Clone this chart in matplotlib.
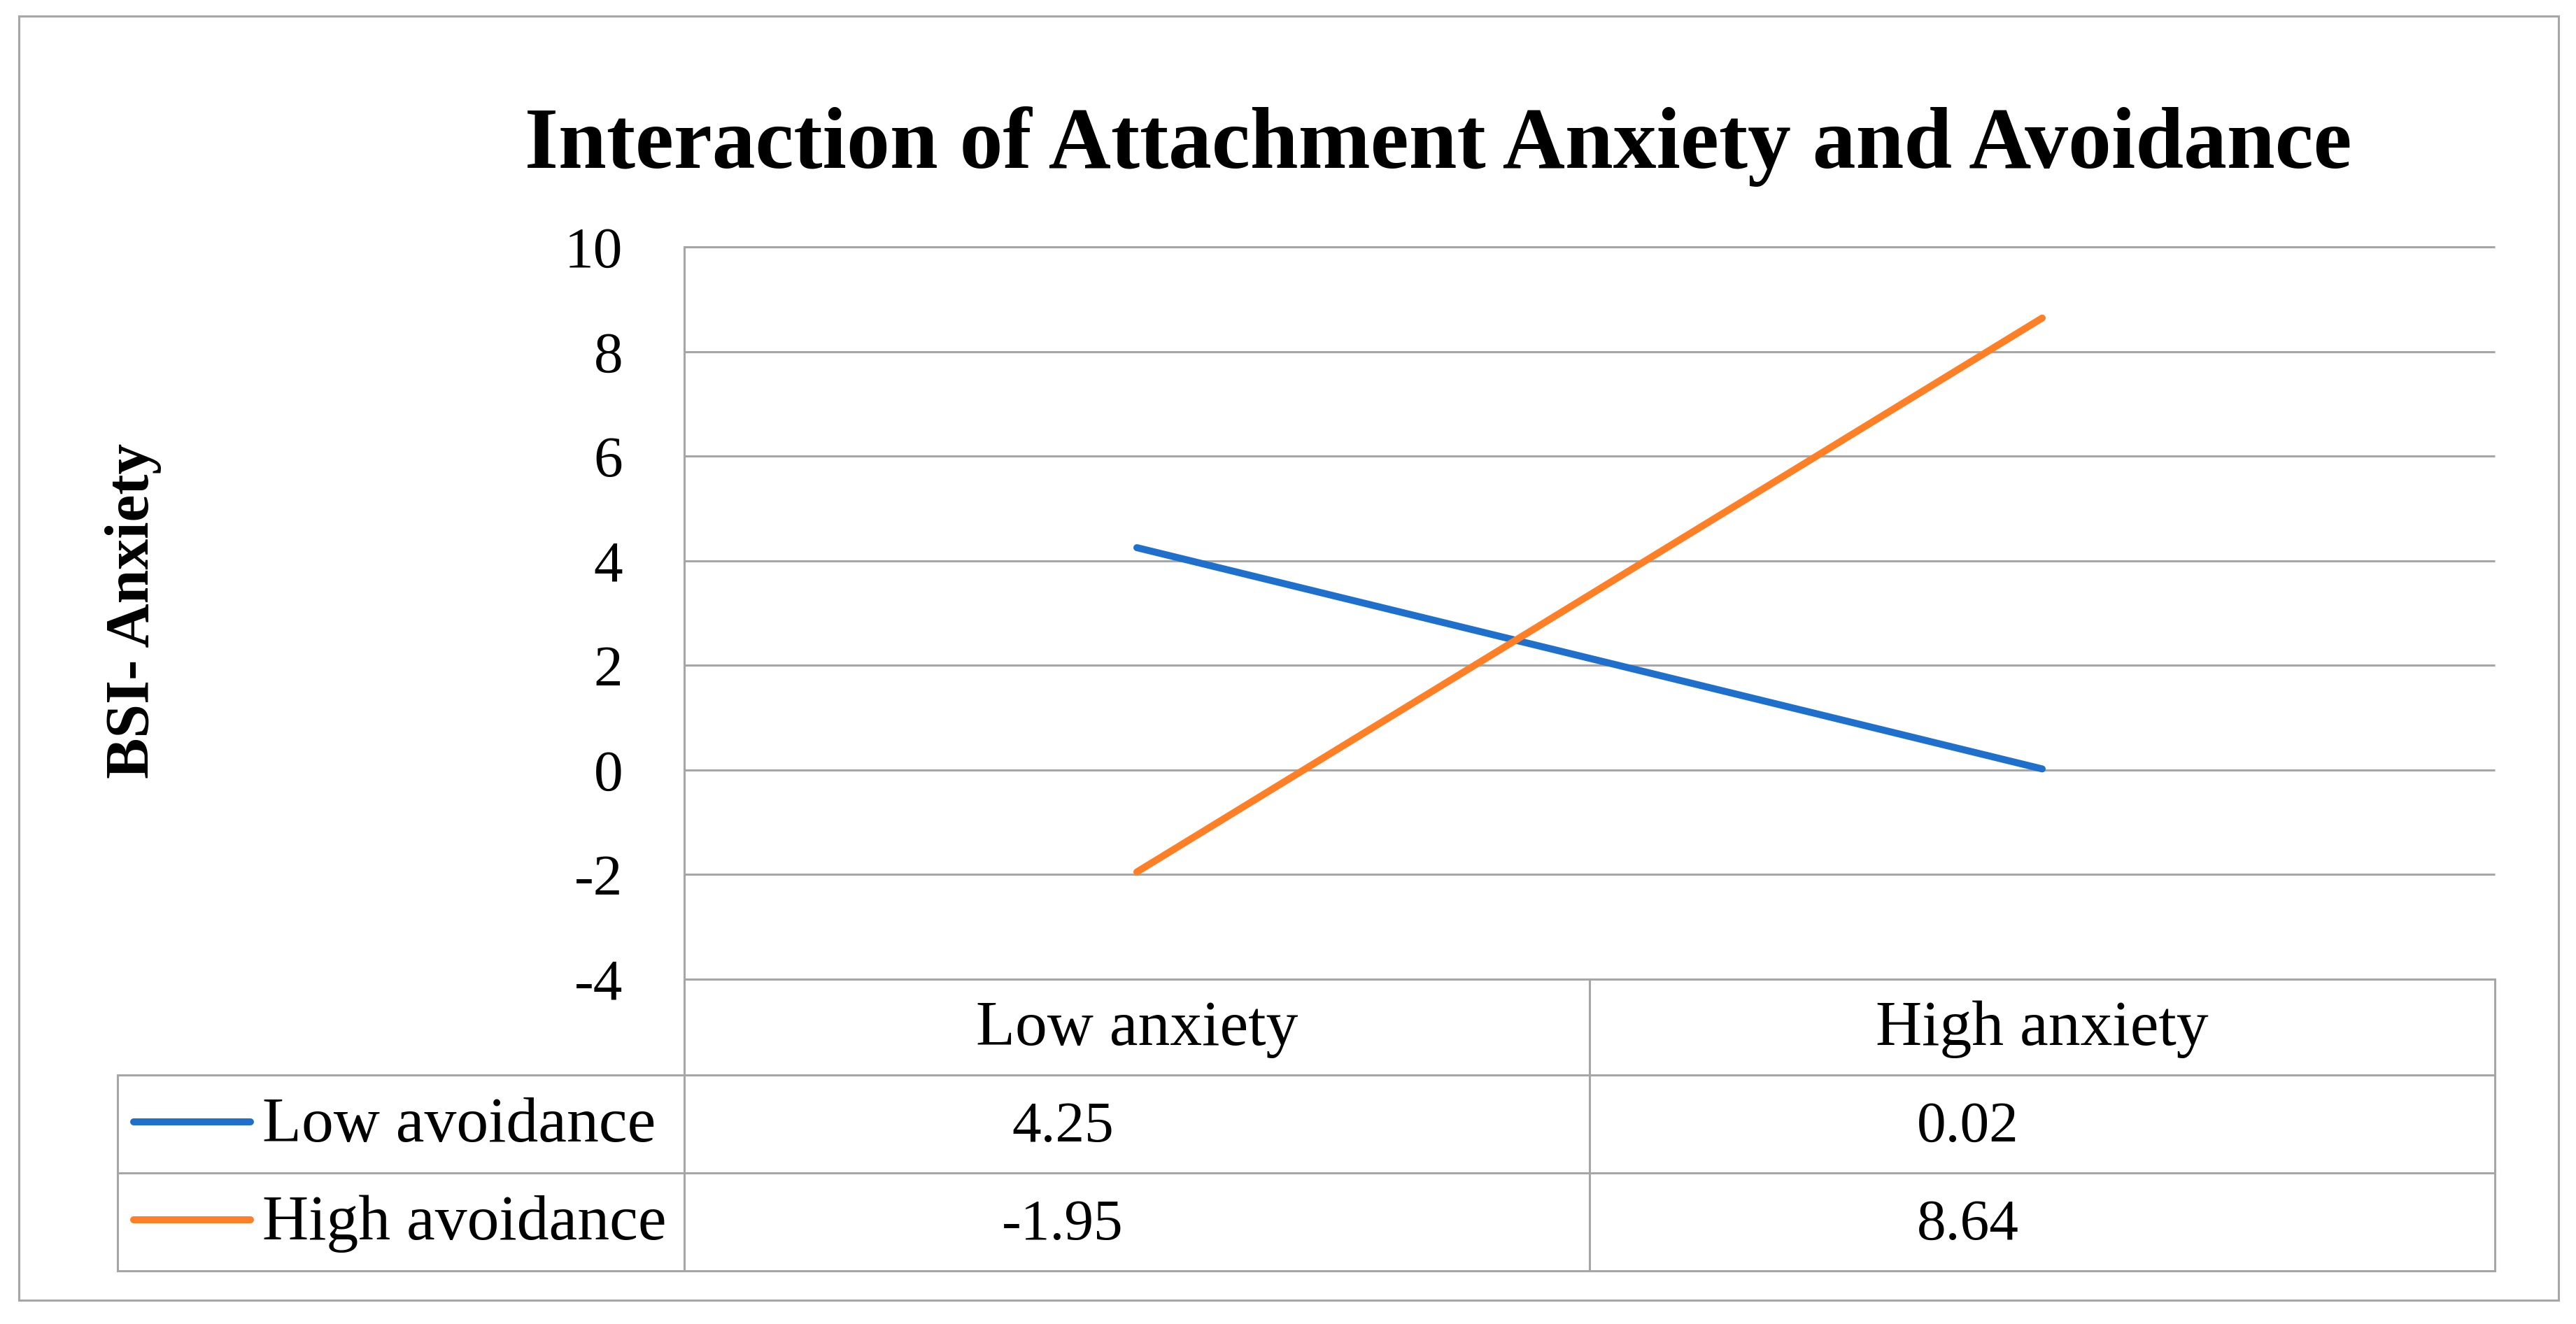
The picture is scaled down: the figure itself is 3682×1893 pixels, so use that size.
import matplotlib
matplotlib.use('Agg')
import matplotlib.pyplot as plt
import matplotlib.transforms as mtransforms

# ---------------- data ----------------
categories = ['Low anxiety', 'High anxiety']
series_names = ['Low avoidance', 'High avoidance']
low_avoidance = [4.25, 0.02]
high_avoidance = [-1.95, 8.64]
value_labels = [['4.25', '0.02'], ['-1.95', '8.64']]
yticks = [-4, -2, 0, 2, 4, 6, 8, 10]
title = 'Interaction of Attachment Anxiety and Avoidance'
ylabel = 'BSI- Anxiety'

series_values = [low_avoidance, high_avoidance]
colors = ['#1F6FCC', '#FF7F27']
grid_color = '#A6A6A6'
FONT = 'Liberation Serif'

# ---------------- layout (pixels) ----------------
W, H = 3682, 1893
DPI = 100
fig = plt.figure(figsize=(W / DPI, H / DPI), dpi=DPI)
fig.patch.set_facecolor('white')

AX_L, AX_R, AX_T, AX_B = 978, 3566, 353, 1400
TAB_L = 168
ROW_LINES = [1537, 1677, 1817]
BASELINES = [1494, 1632, 1772]
GRID_LW = 2.2
LINE_LW = 7.2

def ax_y(py):
    return (AX_B - py) / (AX_B - AX_T)

def ax_x(px):
    return (px - AX_L) / (AX_R - AX_L)

# overlay for frame / table rules
ov = fig.add_axes([0, 0, 1, 1], zorder=0)
ov.set_xlim(0, W)
ov.set_ylim(H, 0)
ov.axis('off')
ov.add_patch(plt.Rectangle((27, 23), 3657 - 27, 1859 - 23, fill=False,
                           edgecolor=grid_color, lw=GRID_LW))

ax = fig.add_axes([AX_L / W, 1 - AX_B / H, (AX_R - AX_L) / W, (AX_B - AX_T) / H], zorder=2)
ax.patch.set_alpha(0)
ax.set_xlim(-0.5, 1.5)
ax.set_ylim(min(yticks), max(yticks))
for s in ax.spines.values():
    s.set_visible(False)

# horizontal grid
ax.hlines(yticks, -0.5, 1.5, colors=grid_color, lw=GRID_LW, clip_on=False, zorder=1)

# lines
x = list(range(len(categories)))
for vals, c in zip(series_values, colors):
    ax.plot(x, vals, color=c, lw=LINE_LW, solid_capstyle='round', zorder=3, clip_on=False)

# y ticks
ax.set_yticks(yticks)
ax.set_yticklabels([str(t) for t in yticks], fontsize=60, fontfamily=FONT)
ax.tick_params(axis='y', length=0, pad=(AX_L - 890) * 72 / DPI)
ax.set_xticks([])

blend = mtransforms.blended_transform_factory(ax.transData, ax.transAxes)
tr_ax = ax.transAxes

# vertical rules
ax.plot([ax_x(AX_L)] * 2, [1, ax_y(ROW_LINES[-1])], transform=tr_ax, color=grid_color,
        lw=GRID_LW, clip_on=False)
ax.plot([0.5, 0.5], [0, ax_y(ROW_LINES[-1])], transform=blend, color=grid_color,
        lw=GRID_LW, clip_on=False)
ax.plot([1.5, 1.5], [0, ax_y(ROW_LINES[-1])], transform=blend, color=grid_color,
        lw=GRID_LW, clip_on=False)
ax.plot([ax_x(TAB_L)] * 2, [ax_y(ROW_LINES[0]), ax_y(ROW_LINES[-1])], transform=tr_ax,
        color=grid_color, lw=GRID_LW, clip_on=False)
# horizontal rules of table
for py in ROW_LINES:
    ax.plot([ax_x(TAB_L), 1], [ax_y(py)] * 2, transform=tr_ax, color=grid_color,
            lw=GRID_LW, clip_on=False)

# header
for i, cat in enumerate(categories):
    ax.text(i, ax_y(BASELINES[0]), cat, transform=blend, ha='center', va='baseline',
            fontsize=66, fontfamily=FONT)

# rows
for r, (name, c) in enumerate(zip(series_names, colors)):
    row_mid = (ROW_LINES[r] + ROW_LINES[r + 1]) / 2 - 3
    ax.plot([ax_x(191), ax_x(358)], [ax_y(row_mid)] * 2, transform=tr_ax, color=c,
            lw=LINE_LW, solid_capstyle='round', clip_on=False)
    ax.text(ax_x(375), ax_y(BASELINES[r + 1]), name, transform=tr_ax, ha='left',
            va='baseline', fontsize=66, fontfamily=FONT)
    for i, lab in enumerate(value_labels[r]):
        ax.text(i - 0.082, ax_y(BASELINES[r + 1]), lab, transform=blend, ha='center',
                va='baseline', fontsize=60, fontfamily=FONT)

# title
fig.text(2056 / W, 1 - 240 / H, title, ha='center', va='baseline', fontsize=89,
         fontweight='bold', fontfamily=FONT)

# y label
fig.text(212 / W, 1 - 873 / H, ylabel, rotation=90, rotation_mode='anchor',
         ha='center', va='baseline', fontsize=63, fontweight='bold', fontfamily=FONT)

fig.savefig('out.png', dpi=DPI, facecolor='white')
